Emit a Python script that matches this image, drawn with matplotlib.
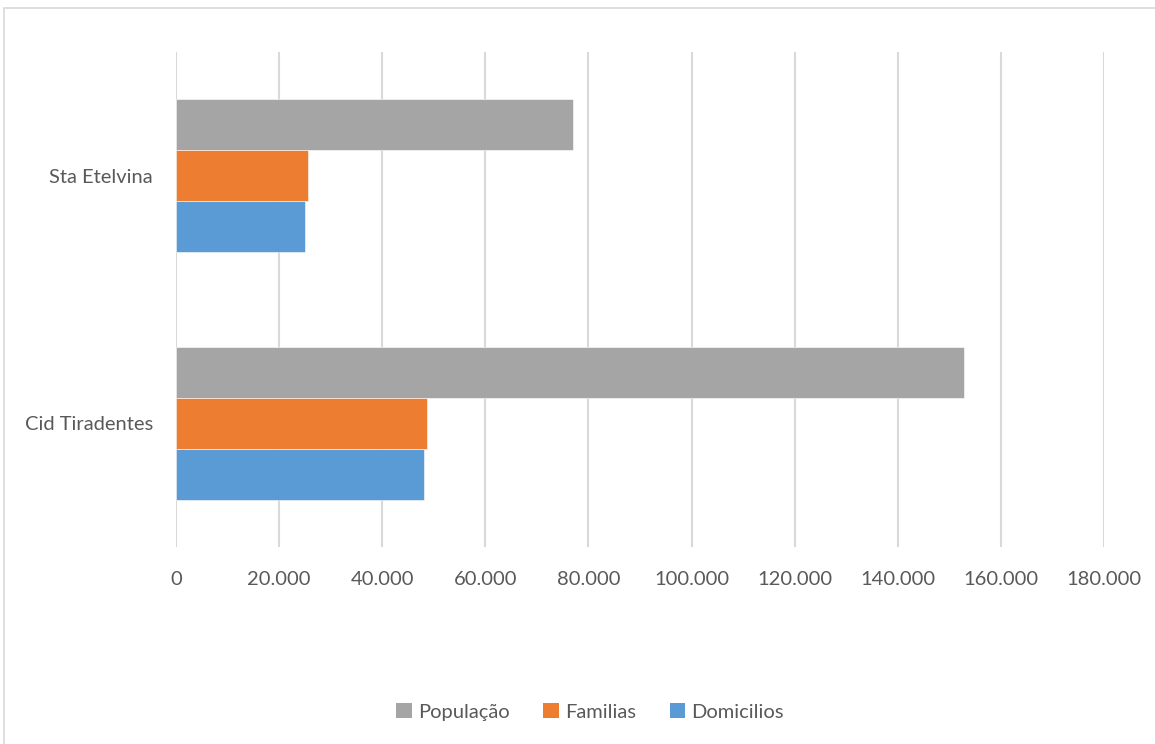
import matplotlib
matplotlib.use("Agg")
import matplotlib.pyplot as plt
from matplotlib.patches import Rectangle, Patch

categories = ["Cid Tiradentes", "Sta Etelvina"]
populacao = [152800, 77000]
familias = [48600, 25700]
domicilios = [48200, 25000]
series_names = ["População", "Familias", "Domicilios"]
colors = ["#A5A5A5", "#ED7D31", "#5B9BD5"]
xticks = list(range(0, 180001, 20000))
xtick_labels = ["0"] + [f"{v // 1000}.000" for v in xticks[1:]]

plt.rcParams['font.family'] = ['Lato', 'DejaVu Sans']
W, H = 1155, 744
fig = plt.figure(figsize=(W / 100, H / 100), dpi=100)
ax = fig.add_axes([176 / W, 1 - 547 / H, (1104 - 176) / W, (547 - 52) / H])

h = 51 / 247
ys = list(range(len(categories)))
for vals, off, c, name in zip([populacao, familias, domicilios], [h, 0, -h], colors, series_names):
    ax.barh([y + off for y in ys], vals, height=h, color=c, label=name,
            edgecolor="white", linewidth=0.4, zorder=3)

ax.set_ylim(-0.5, 1.5)
ax.set_xlim(0, 180000)
ax.set_xticks(xticks)
ax.set_xticklabels(xtick_labels)
ax.set_yticks(ys)
ax.set_yticklabels(categories)
ax.tick_params(axis='both', length=0, labelsize=14.5, labelcolor="#595959")
ax.tick_params(axis='x', pad=17)
ax.tick_params(axis='y', pad=16.5)
ax.grid(axis='x', color="#D9D9D9", linewidth=1.5, zorder=0)
for s in ax.spines.values():
    s.set_visible(False)

handles = [Patch(facecolor=c, label=n) for c, n in zip(colors, series_names)]
fig.legend(handles=handles, loc="center", bbox_to_anchor=(590 / W, 1 - 712 / H), ncol=3,
           frameon=False, fontsize=14.5, labelcolor="#595959", handlelength=0.75,
           handleheight=0.75, handletextpad=0.3, columnspacing=1.7)

fig.patches.append(Rectangle((4 / W, -0.1), 1.2, 1 - 8 / H + 0.1, transform=fig.transFigure,
                             fill=False, edgecolor="#D9D9D9", linewidth=1.2))

fig.savefig("out.png", dpi=100, facecolor="white")
